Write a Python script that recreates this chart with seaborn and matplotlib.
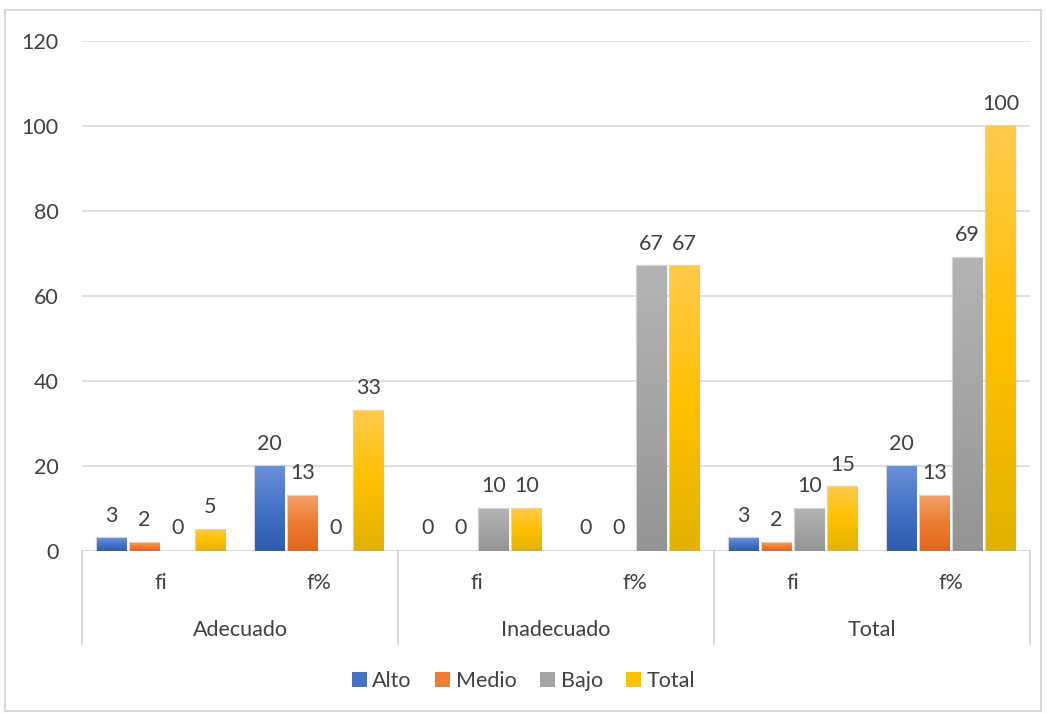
import numpy as np
import pandas as pd
import matplotlib
matplotlib.use("Agg")
import matplotlib.pyplot as plt
import matplotlib.colors as mcolors
from matplotlib.patches import Rectangle
from matplotlib.transforms import blended_transform_factory
import seaborn as sns

# data
groups = ["Adecuado", "Inadecuado", "Total"]
subcats = ["fi", "f%"]
levels = ["Alto", "Medio", "Bajo", "Total"]
alto = [3, 20, 0, 0, 3, 20]
medio = [2, 13, 0, 0, 2, 13]
bajo = [0, 0, 10, 67, 10, 69]
total = [5, 33, 10, 67, 15, 100]

# gradient colours: top, middle, bottom (Excel style)
grad = {
    "Alto": ["#6a8fd8", "#4472c4", "#2f5cb0"],
    "Medio": ["#f4a06a", "#ed7d31", "#e0661c"],
    "Bajo": ["#b4b4b4", "#a5a5a5", "#949494"],
    "Total": ["#ffca4a", "#ffc000", "#e2b200"],
}

cats = [g + "|" + s for g in groups for s in subcats]
rows = []
for i, c in enumerate(cats):
    for lev, vals in zip(levels, [alto, medio, bajo, total]):
        rows.append({"cat": c, "nivel": lev, "valor": vals[i]})
df = pd.DataFrame(rows)

sns.set_theme(style="white")
plt.rcParams["font.family"] = ["Lato", "DejaVu Sans"]
txt = "#404040"
fs = 15.5

fig = plt.figure(figsize=(10.47, 7.13), dpi=100)
ax = fig.add_axes([82 / 1047, 162 / 713, 948 / 1047, 510 / 713])

palette = {k: v[1] for k, v in grad.items()}
sns.barplot(data=df, x="cat", y="valor", hue="nivel", order=cats,
            hue_order=levels, palette=palette, width=0.835, gap=0.12,
            edgecolor="#d4d4d4", linewidth=1.6, legend=False, ax=ax,
            zorder=3)

ax.set_xlim(-0.5, 5.5)
ax.set_ylim(0, 120)
ax.set_yticks(range(0, 121, 20))
ax.yaxis.grid(True, color="#d9d9d9", linewidth=1.2, zorder=0)
ax.tick_params(axis="y", labelsize=fs, labelcolor=txt, length=0, pad=17)
ax.set_xticks([])
ax.set_xlabel("")
ax.set_ylabel("")
for s in ax.spines.values():
    s.set_visible(False)

# gradient fill inside each bar + labels
for cont, lev in zip(ax.containers, levels):
    cmap = mcolors.LinearSegmentedColormap.from_list(lev, grad[lev][::-1])
    for p in cont.patches:
        h = p.get_height()
        if h <= 0:
            p.set_linewidth(0)
            continue
        x0 = p.get_x()
        img = ax.imshow(np.linspace(0, 1, 100).reshape(-1, 1), cmap=cmap,
                        aspect="auto", origin="lower",
                        extent=(x0, x0 + p.get_width(), 0, h), zorder=3.5)
        img.set_clip_path(p)
    ax.bar_label(cont, labels=[f"{v:g}" for v in cont.datavalues],
                 padding=9, fontsize=fs, color=txt)

# multi-level category axis
tr = blended_transform_factory(ax.transData, ax.transAxes)
ax.axhline(0, color="#d9d9d9", linewidth=1.5, zorder=2)
for xb in [-0.5, 1.5, 3.5, 5.5]:
    ax.plot([xb, xb], [0, -0.182], transform=tr, color="#d9d9d9",
            linewidth=1.5, clip_on=False)
for i, c in enumerate(cats):
    ax.text(i, -0.062, c.split("|")[1], transform=tr, ha="center",
            va="center", fontsize=fs, color=txt)
for j, g in enumerate(groups):
    ax.text(2 * j + 0.5, -0.155, g, transform=tr, ha="center",
            va="center", fontsize=fs, color=txt)

# legend
handles = [Rectangle((0, 0), 1, 1, facecolor=grad[l][1], edgecolor="none")
           for l in levels]
fig.legend(handles, levels, loc="center", bbox_to_anchor=(0.5, 32 / 713),
           ncol=4, frameon=False, fontsize=fs, labelcolor=txt,
           handlelength=0.7, handleheight=0.7, handletextpad=0.25,
           columnspacing=1.1)

# outer chart border
fig.add_artist(Rectangle((5 / 1047, 2 / 713), 1036 / 1047, 701 / 713,
                         transform=fig.transFigure, fill=False,
                         edgecolor="#d9d9d9", linewidth=1.5))

fig.savefig("out.png", dpi=100)
